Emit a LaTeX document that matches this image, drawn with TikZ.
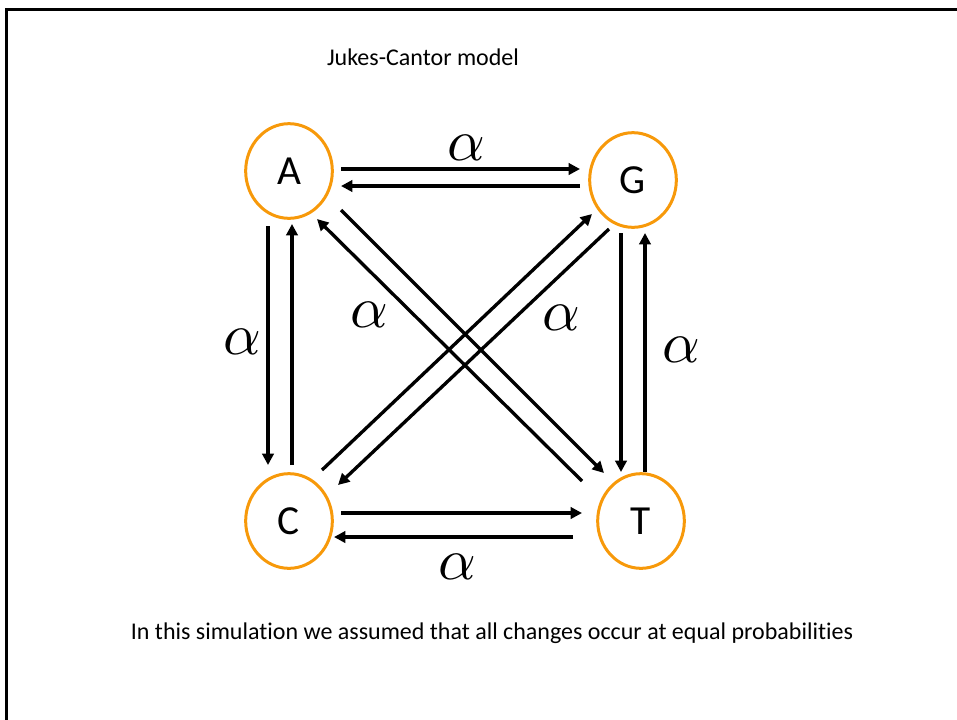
\documentclass[tikz,border=0pt]{standalone}
\usepackage{fontspec}
\setmainfont{Carlito}[Ligatures=NoCommon]
\usepackage{graphicx}
\usepackage{tikz}
\usetikzlibrary{shapes.geometric,arrows.meta,calc}
\definecolor{jcorange}{RGB}{247,153,10}
\newcommand{\bigalpha}{\scalebox{4.4}{$\alpha$}}

\begin{document}
\begin{tikzpicture}[
  x=0.75pt, y=-0.75pt,
  base/.style={draw=jcorange,line width=2.25pt,ellipse,minimum width=65pt,minimum height=71pt,inner sep=0pt,font=\fontsize{31}{31}\selectfont},
  al/.style={inner sep=0pt},
  txt/.style={inner sep=0pt,font=\fontsize{18}{21}\selectfont},
  ar/.style={-{Triangle[length=8.5pt,width=8.5pt]},line width=2.5pt}]

\useasboundingbox (0,0) rectangle (957,719);
% frame of the slide
\draw[line width=2.25pt] (970,9.5) -- (6,9.5) -- (6,730);

\node[txt] (title) at (423,57) {Jukes-Cantor model};

\node[base] (A) at (289,171) {A};
\node[base] (G) at (633,180) {G};
\node[base] (C) at (289,521) {C};
\node[base] (T) at (641,521) {T};

% horizontal pairs
\draw[ar] ($(A)+(52,-2)$) -- ($(G)+(-53,-11)$);
\draw[ar] ($(G)+(-53,6)$) -- ($(A)+(52,15)$);
\draw[ar] ($(C)+(52,-8)$) -- ($(T)+(-59,-8)$);
\draw[ar] ($(T)+(-68,16)$) -- ($(C)+(45,16)$);
% vertical pairs
\draw[ar] ($(A)+(-21,55)$) -- ($(C)+(-21,-56)$);
\draw[ar] ($(C)+(3,-56)$) -- ($(A)+(3,53)$);
\draw[ar] ($(G)+(-12,53)$) -- ($(T)+(-20,-49)$);
\draw[ar] ($(T)+(4,-49)$) -- ($(G)+(12,53)$);
% diagonals
\draw[ar] ($(A)+(52,39)$) -- ($(T)+(-37,-48)$);
\draw[ar] ($(T)+(-59,-40)$) -- ($(A)+(28,48)$);
\draw[ar] ($(C)+(33,-51)$) -- ($(G)+(-41,34)$);
\draw[ar] ($(G)+(-24,49)$) -- ($(C)+(49,-36)$);

\node[al] (aAG) at (466,148) {\bigalpha};
\node[al] (aAC) at (242,342) {\bigalpha};
\node[al] (aAT) at (369,315) {\bigalpha};
\node[al] (aCG) at (561,318) {\bigalpha};
\node[al] (aGT) at (681,350) {\bigalpha};
\node[al] (aCT) at (457,567) {\bigalpha};

\node[txt] (note) at (492,633) {In this simulation we assumed that all changes occur at equal probabilities};
\end{tikzpicture}
\end{document}
